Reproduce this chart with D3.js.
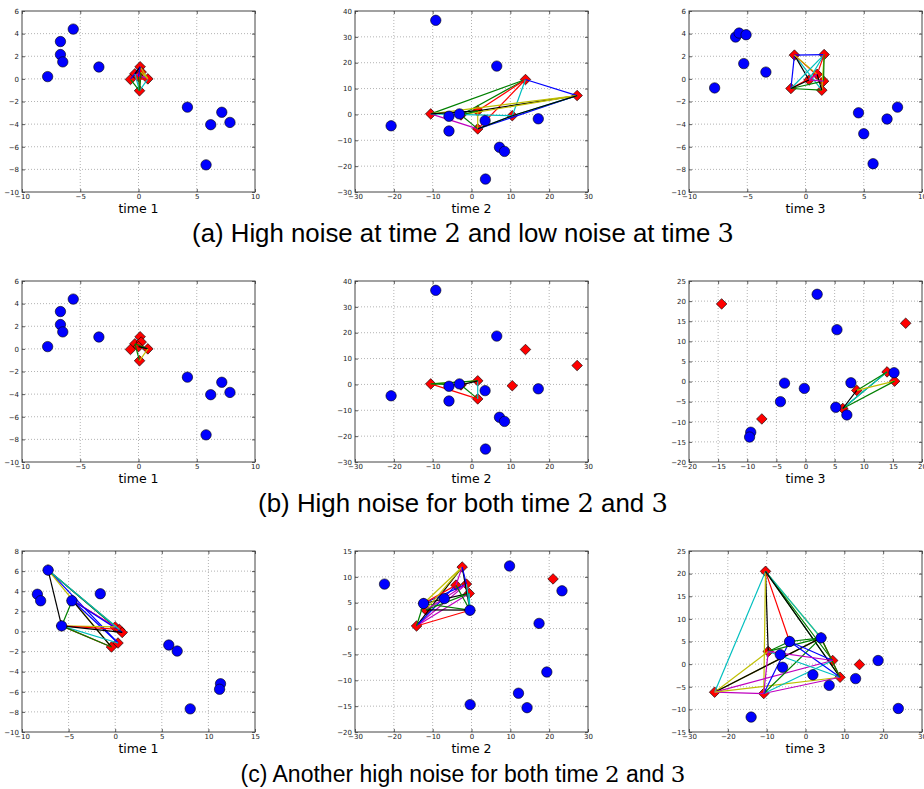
<!DOCTYPE html>
<html>
<head>
<meta charset="utf-8">
<script src="https://cdn.jsdelivr.net/npm/d3@7/dist/d3.min.js"></script>
<style>
  body { margin: 0; background: #fff; }
  .tick text { font-family: "DejaVu Sans", sans-serif; font-size: 7px; fill: #222; }
  .tick line { stroke: #333; stroke-width: 0.8; }
</style>
</head>
<body>
<svg width="924" height="789"></svg>
<script>
// ---- data ----
// tick values
var ticks10 = [-10, -5, 0, 5, 10];
var ticksY6 = [-10, -8, -6, -4, -2, 0, 2, 4, 6];
var ticks30 = [-30, -20, -10, 0, 10, 20, 30];
var ticksY40 = [-30, -20, -10, 0, 10, 20, 30, 40];
var ticks20 = [-20, -15, -10, -5, 0, 5, 10, 15, 20];
var ticksY25 = [-20, -15, -10, -5, 0, 5, 10, 15, 20, 25];
var ticks15 = [-10, -5, 0, 5, 10, 15];
var ticksY8 = [-10, -8, -6, -4, -2, 0, 2, 4, 6, 8];
var ticksY15 = [-20, -15, -10, -5, 0, 5, 10, 15];
var ticksY25c = [-15, -10, -5, 0, 5, 10, 15, 20, 25];

// time 1 (rows a and b)
var t1Circles = [[-7.8, 0.2], [-6.7, 3.3], [-6.7, 2.15], [-6.5, 1.5], [-5.6, 4.4], [-3.4, 1.05],
                 [4.2, -2.5], [7.15, -2.95], [7.85, -3.85], [6.2, -4.05], [5.8, -7.6]];
var t1Diamonds = [[0.14, 1.07], [-0.31, 0.45], [0.23, 0.6], [-0.69, -0.05], [0.8, 0.0], [0.09, -1.05], [0.0, 0.2]];
var a1Edges = [[0, 3, 'b'], [0, 4, 'y'], [0, 5, 'r'], [3, 5, 'g'], [4, 5, 'c'], [1, 4, 'm'], [2, 5, 'g'],
               [3, 4, 'r'], [1, 5, 'c'], [0, 1, 'k'], [2, 4, 'y'], [6, 5, 'g'], [0, 6, 'b']];
var b1Edges = [[1, 4, 'g'], [6, 4, 'k'], [1, 5, 'g'], [4, 5, 'y']];

// time 2 (rows a and b)
var t2Circles = [[-9.2, 36.4], [6.5, 18.7], [-20.7, -4.4], [-5.8, -0.7], [-5.8, -6.4], [-3.1, 0.2],
                 [3.5, -2.4], [17.2, -1.7], [7.2, -12.7], [8.5, -14.3], [3.6, -25]];
var t2Diamonds = [[-10.5, 0.2], [-2.7, -0.2], [1.6, 1.4], [1.6, -5.6], [10.5, -0.5], [13.9, 13.5], [27.2, 7.3]];
var a2Edges = [[0, 5, 'g'], [1, 5, 'g'], [2, 5, 'r'], [3, 5, 'r'], [4, 5, 'c'], [5, 6, 'b'], [3, 6, 'b'],
               [3, 4, 'c'], [4, 6, 'c'], [2, 6, 'k'], [0, 6, 'y'], [1, 6, 'y'], [0, 3, 'm'], [1, 3, 'g'],
               [2, 3, 'y'], [0, 4, 'c'], [3, 4, 'k'], [0, 2, 'k'], [1, 2, 'g'], [4, 6, 'k']];
var b2Edges = [[0, 2, 'y'], [0, 2, 'g'], [1, 3, 'g'], [0, 3, 'r'], [2, 3, 'c'], [1, 2, 'k'], [0, 1, 'g']];

// time 3, row a
var a3Circles = [[-7.8, -0.8], [-6.0, 3.7], [-5.7, 4.05], [-5.1, 3.9], [-5.3, 1.35], [-3.4, 0.6],
                 [4.55, -3.0], [5.0, -4.85], [7.0, -3.55], [7.9, -2.5], [5.8, -7.5]];
var a3Diamonds = [[-0.95, 2.1], [1.6, 2.15], [-1.25, -0.85], [1.4, -1.0], [1.55, -0.2], [0.3, -0.1], [1.0, 0.4]];
var a3Edges = [[0, 1, 'b'], [0, 2, 'b'], [0, 3, 'c'], [0, 5, 'k'], [0, 4, 'r'], [0, 6, 'y'], [2, 3, 'g'],
               [2, 4, 'g'], [2, 6, 'r'], [1, 2, 'c'], [1, 5, 'c'], [1, 3, 'y'], [1, 4, 'g'], [1, 6, 'r'],
               [5, 6, 'm'], [2, 5, 'k'], [3, 6, 'k'], [5, 4, 'm']];

// time 3, row b
var b3Circles = [[2.0, 21.7], [5.4, 12.9], [-3.6, -0.4], [-0.2, -1.7], [-4.3, -5.0], [7.8, -0.3],
                 [15.2, 2.2], [5.2, -6.4], [7.1, -8.3], [-9.4, -12.6], [-9.6, -13.8]];
var b3Diamonds = [[-14.4, 19.3], [17.2, 14.5], [-7.5, -9.3], [8.8, -2.2], [6.4, -6.7], [14.0, 2.4], [15.3, 0.1]];
var b3Edges = [[4, 5, 'g'], [4, 5, 'c'], [3, 5, 'g'], [3, 6, 'y'], [4, 6, 'g'], [4, 3, 'k']];

// row c
var c1Circles = [[-7.2, 6.1], [-8.35, 3.7], [-8.0, 3.05], [-4.65, 3.05], [-1.6, 3.75], [-5.75, 0.55],
                 [5.75, -1.35], [6.65, -1.95], [11.3, -5.2], [11.2, -5.75], [8.05, -7.7]];
var c1Diamonds = [[-7.2, 6.1], [-4.6, 3.1], [-5.75, 0.55], [0.0, 0.45], [0.45, 0.2], [0.75, -0.1], [0.3, -1.15], [-0.4, -1.55]];
var c1Edges = [[0, 3, 'g'], [0, 4, 'y'], [0, 5, 'm'], [0, 6, 'b'], [0, 7, 'y'], [0, 2, 'k'], [0, 5, 'g'],
               [1, 3, 'r'], [1, 6, 'b'], [1, 7, 'k'], [1, 2, 'g'], [1, 4, 'm'], [1, 5, 'b'],
               [2, 3, 'y'], [2, 4, 'r'], [2, 5, 'k'], [2, 6, 'c'], [2, 7, 'r'], [2, 7, 'g'], [0, 4, 'c']];

var c2Circles = [[-22.4, 8.6], [9.8, 12.1], [23.3, 7.3], [17.4, 1.0], [19.4, -8.4], [12.1, -12.5],
                 [14.3, -15.3], [-0.35, -14.7], [-0.4, 3.55], [-12.35, 4.85], [-7.0, 5.8]];
var c2Diamonds = [[-14.15, 0.5], [-2.4, 11.9], [-1.3, 8.6], [-0.6, 6.8], [-4.0, 8.4], [-11.75, 3.6],
                  [21.0, 9.6], [-0.4, 3.55], [-12.35, 4.85]];
var c2Edges = [[0, 1, 'k'], [0, 2, 'm'], [0, 3, 'm'], [0, 4, 'b'], [0, 7, 'r'], [0, 8, 'g'],
               [8, 1, 'y'], [8, 2, 'b'], [8, 3, 'k'], [8, 7, 'g'], [8, 4, 'r'],
               [5, 1, 'y'], [5, 2, 'm'], [5, 7, 'k'], [5, 3, 'g'],
               [7, 1, 'k'], [7, 2, 'c'], [7, 3, 'c'], [7, 4, 'g'], [4, 1, 'm'], [2, 1, 'b']];

var c3Circles = [[-14.0, -11.7], [-5.9, -0.7], [-6.5, 2.1], [-4.1, 5.0], [1.9, -2.35], [4.0, 5.8],
                 [6.1, -4.7], [12.9, -3.2], [18.7, 0.8], [23.9, -9.8]];
var c3Diamonds = [[-10.3, 20.5], [-23.4, -6.2], [-10.75, -6.5], [-9.6, 2.8], [7.0, 0.8], [8.9, -2.9],
                  [13.9, -0.1], [4.0, 5.8], [-4.1, 5.0]];
var c3Edges = [[0, 1, 'c'], [0, 3, 'k'], [0, 2, 'y'], [0, 8, 'r'], [0, 7, 'y'], [0, 4, 'g'], [0, 5, 'g'],
               [0, 7, 'c'], [0, 5, 'k'],
               [1, 3, 'y'], [1, 7, 'y'], [1, 7, 'k'], [1, 4, 'm'], [1, 2, 'm'], [1, 5, 'y'],
               [2, 5, 'm'], [2, 4, 'c'], [2, 7, 'g'], [2, 8, 'b'], [2, 3, 'm'],
               [3, 5, 'c'], [3, 7, 'g'], [3, 8, 'g'], [8, 5, 'b'], [7, 5, 'r'], [7, 5, 'g'],
               [8, 7, 'g'], [8, 4, 'b'], [3, 4, 'm']];

var xLabels = ["time 1", "time 2", "time 3"];
var captionA = ["(a) High noise at time ", "2", " and low noise at time ", "3"];
var captionB = ["(b) High noise for both time ", "2", " and ", "3"];
var captionC = ["(c) Another high noise for both time ", "2", " and ", "3"];

// ---- layout ----
var svg = d3.select("svg");
var colLeft = [22, 355, 689];
var rowTop = [11, 281, 551];
var pw = 233, ph = 181;

var lineColor = { b: "#0000ff", g: "#008000", r: "#ff0000", c: "#00bfbf", m: "#bf00bf", y: "#bfbf00", k: "#000000" };

var panels = [
  { row: 0, col: 0, xd: ticks10, yd: ticksY6, circles: t1Circles, diamonds: t1Diamonds, edges: a1Edges },
  { row: 0, col: 1, xd: ticks30, yd: ticksY40, circles: t2Circles, diamonds: t2Diamonds, edges: a2Edges },
  { row: 0, col: 2, xd: ticks10, yd: ticksY6, circles: a3Circles, diamonds: a3Diamonds, edges: a3Edges },
  { row: 1, col: 0, xd: ticks10, yd: ticksY6, circles: t1Circles, diamonds: t1Diamonds, edges: b1Edges },
  { row: 1, col: 1, xd: ticks30, yd: ticksY40, circles: t2Circles, diamonds: t2Diamonds, edges: b2Edges },
  { row: 1, col: 2, xd: ticks20, yd: ticksY25, circles: b3Circles, diamonds: b3Diamonds, edges: b3Edges },
  { row: 2, col: 0, xd: ticks15, yd: ticksY8, circles: c1Circles, diamonds: c1Diamonds, edges: c1Edges },
  { row: 2, col: 1, xd: ticks30, yd: ticksY15, circles: c2Circles, diamonds: c2Diamonds, edges: c2Edges },
  { row: 2, col: 2, xd: ticks30, yd: ticksY25c, circles: c3Circles, diamonds: c3Diamonds, edges: c3Edges }
];

var diamond = d3.symbol().type(d3.symbolSquare).size(56);

panels.forEach(function(p) {
  var g = svg.append("g")
    .attr("transform", "translate(" + colLeft[p.col] + "," + rowTop[p.row] + ")");

  var x = d3.scaleLinear().domain(d3.extent(p.xd)).range([0, pw]);
  var y = d3.scaleLinear().domain(d3.extent(p.yd)).range([ph, 0]);

  // dotted grid
  g.selectAll(".gx").data(p.xd.slice(1, -1)).enter().append("line")
    .attr("x1", function(d) { return x(d); }).attr("x2", function(d) { return x(d); })
    .attr("y1", 0).attr("y2", ph)
    .attr("stroke", "#a0a0a0").attr("stroke-width", 0.8).attr("stroke-dasharray", "1,2");
  g.selectAll(".gy").data(p.yd.slice(1, -1)).enter().append("line")
    .attr("y1", function(d) { return y(d); }).attr("y2", function(d) { return y(d); })
    .attr("x1", 0).attr("x2", pw)
    .attr("stroke", "#a0a0a0").attr("stroke-width", 0.8).attr("stroke-dasharray", "1,2");

  // axes with inward ticks
  g.append("g").attr("transform", "translate(0," + ph + ")")
    .call(d3.axisBottom(x).tickValues(p.xd).tickSize(-3).tickPadding(2))
    .call(function(a) { a.select(".domain").remove(); });
  g.append("g")
    .call(d3.axisLeft(y).tickValues(p.yd).tickSize(-3).tickPadding(3))
    .call(function(a) { a.select(".domain").remove(); });
  g.append("g")
    .call(d3.axisTop(x).tickValues(p.xd).tickSize(-3).tickFormat(""))
    .call(function(a) { a.select(".domain").remove(); });
  g.append("g").attr("transform", "translate(" + pw + ",0)")
    .call(d3.axisRight(y).tickValues(p.yd).tickSize(-3).tickFormat(""))
    .call(function(a) { a.select(".domain").remove(); });

  var plot = g.append("g");

  // diamonds first, then the connecting lines on top, then the circles
  plot.selectAll(".dia").data(p.diamonds).enter().append("path")
    .attr("d", diamond)
    .attr("transform", function(d) { return "translate(" + x(d[0]) + "," + y(d[1]) + ") rotate(45)"; })
    .attr("fill", "#ff0000").attr("stroke", "#000").attr("stroke-width", 0.6);

  plot.selectAll(".edge").data(p.edges).enter().append("line")
    .attr("x1", function(d) { return x(p.diamonds[d[0]][0]); })
    .attr("y1", function(d) { return y(p.diamonds[d[0]][1]); })
    .attr("x2", function(d) { return x(p.diamonds[d[1]][0]); })
    .attr("y2", function(d) { return y(p.diamonds[d[1]][1]); })
    .attr("stroke", function(d) { return lineColor[d[2]]; })
    .attr("stroke-width", 1.2);

  plot.selectAll(".pt").data(p.circles).enter().append("circle")
    .attr("cx", function(d) { return x(d[0]); })
    .attr("cy", function(d) { return y(d[1]); })
    .attr("r", 5.2)
    .attr("fill", "#0000ff").attr("stroke", "#000").attr("stroke-width", 0.6);

  // frame
  g.append("rect").attr("width", pw).attr("height", ph)
    .attr("fill", "none").attr("stroke", "#444").attr("stroke-width", 1);

  g.append("text")
    .attr("x", pw / 2).attr("y", ph + 21)
    .attr("text-anchor", "middle")
    .attr("font-family", "DejaVu Sans, sans-serif").attr("font-size", 12.5)
    .attr("fill", "#000")
    .text(xLabels[p.col]);
});

// captions
var captions = [captionA, captionB, captionC];
var capWidth = [542, 410, 445];
captions.forEach(function(parts, i) {
  var t = svg.append("text")
    .attr("x", 463).attr("y", rowTop[i] + ph + 50)
    .attr("text-anchor", "middle")
    .attr("font-family", "Liberation Sans, Arial, sans-serif")
    .attr("font-size", 20).attr("fill", "#000");
  parts.forEach(function(s, j) {
    t.append("tspan")
      .attr("font-family", j % 2 ? "DejaVu Serif, serif" : null)
      .text(s);
  });
  var w = t.node().getComputedTextLength();
  t.attr("font-size", 20 * capWidth[i] / w);
});
</script>
</body>
</html>
